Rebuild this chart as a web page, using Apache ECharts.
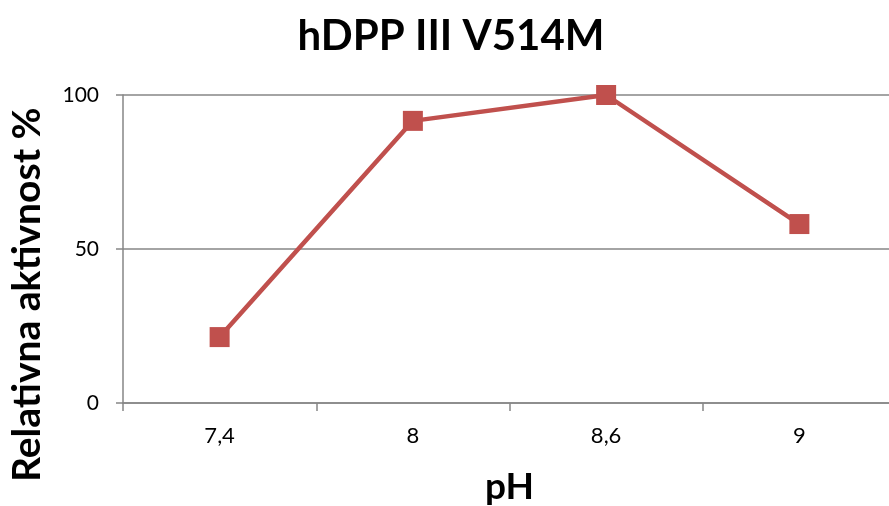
<!DOCTYPE html>
<html><head><meta charset="utf-8">
<script src="https://cdn.jsdelivr.net/npm/echarts@6/dist/echarts.min.js"></script>
<style>html,body{margin:0;padding:0;background:#fff}#c{width:889px;height:506px}</style>
</head><body><div id="c"></div>
<script>
const title = 'hDPP III V514M';
const categories = ['7,4', '8', '8,6', '9'];
const activity = [21.4, 91.6, 100, 58.1];
const yTicks = [0, 50, 100];
const xName = 'pH';
const yName = 'Relativna aktivnost %';

const chart = echarts.init(document.getElementById('c'), null, {renderer: 'canvas'});
const font = 'Lato, "Open Sans", sans-serif';
chart.setOption({
  backgroundColor: '#fff',
  animation: false,
  title: {text: title, left: 446, top: 10, textAlign: 'center',
    textStyle: {fontFamily: font, fontWeight: 'bold', fontSize: 42, color: '#000'}},
  grid: {left: 123, right: -7, top: 95, bottom: 103, containLabel: false, outerBoundsMode: 'none'},
  xAxis: {type: 'category', data: categories, boundaryGap: true,
    name: xName, nameLocation: 'middle', nameGap: 66,
    nameTextStyle: {fontFamily: font, fontWeight: 'bold', fontSize: 37, color: '#000'},
    axisLine: {lineStyle: {color: '#868686', width: 1.5}},
    axisTick: {show: true, length: 8, inside: false, lineStyle: {color: '#868686', width: 1.5}},
    axisLabel: {fontFamily: font, fontSize: 22, color: '#000', margin: 22}},
  yAxis: {type: 'value', min: yTicks[0], max: yTicks[yTicks.length-1], interval: 50,
    axisLine: {show: true, lineStyle: {color: '#868686', width: 1.5}},
    axisTick: {show: true, length: 7, lineStyle: {color: '#868686', width: 1.5}},
    splitLine: {lineStyle: {color: '#868686', width: 1.5}},
    axisLabel: {fontFamily: font, fontSize: 21, color: '#000', margin: 24}},
  graphic: [{type: 'text', rotation: Math.PI/2,
    style: {text: yName, fontFamily: font, fontWeight: 'bold', fontSize: 39, fill: '#000',
      x: 0, y: 0},
    position: [8, 482], origin: [0, 0]}],
  series: [{type: 'line', data: activity, symbol: 'rect', symbolSize: 20,
    lineStyle: {color: '#C0504D', width: 4.5},
    itemStyle: {color: '#C0504D'}}]
});
</script></body></html>
